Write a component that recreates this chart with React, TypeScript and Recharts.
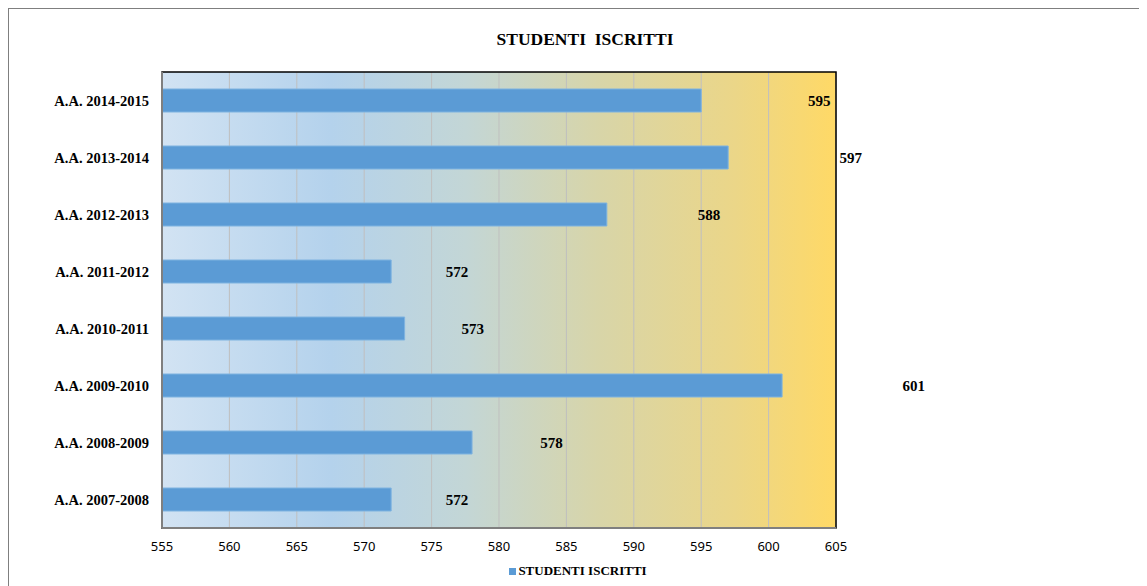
import { Bar, BarChart, CartesianGrid, LabelList, Legend, ReferenceArea, XAxis, YAxis } from "recharts"

const categories = [
  "A.A. 2007-2008",
  "A.A. 2008-2009",
  "A.A. 2009-2010",
  "A.A. 2010-2011",
  "A.A. 2011-2012",
  "A.A. 2012-2013",
  "A.A. 2013-2014",
  "A.A. 2014-2015",
]
const iscritti = [572, 578, 601, 573, 572, 588, 597, 595]
const xTicks = [555, 560, 565, 570, 575, 580, 585, 590, 595, 600, 605]

const data = categories.map((anno, i) => ({ anno, iscritti: iscritti[i] }))

const SERIF = "'Liberation Serif', 'Times New Roman', serif"

// Excel placed the data labels well past the bar ends; follow the same drift
const ValueLabel = (props: any) => {
  const { x, y, width, height, value } = props
  const cx = x + width * 1.169 + 27
  return (
    <text
      x={cx}
      y={y + height / 2}
      textAnchor="middle"
      dominantBaseline="central"
      fontFamily={SERIF}
      fontWeight="bold"
      fontSize={15}
      fill="#000"
    >
      {value}
    </text>
  )
}

const LegendBox = () => (
  <div
    style={{
      display: "flex",
      justifyContent: "center",
      alignItems: "center",
      fontFamily: SERIF,
      paddingTop: 5,
    }}
  >
    <span style={{ width: 7, height: 7, background: "#5B9BD5", marginRight: 2 }} />
    <span style={{ fontWeight: "bold", fontSize: 13, color: "#000" }}>STUDENTI ISCRITTI</span>
  </div>
)

export default function App() {
  return (
    <div
      style={{
        position: "relative",
        width: 1138,
        height: 577,
        borderLeft: "1px solid #7f7f7f",
        borderTop: "1px solid #7f7f7f",
        background: "#fff",
      }}
    >
      <div
        style={{
          position: "absolute",
          top: 20,
          left: 7,
          width: 1138,
          textAlign: "center",
          fontFamily: SERIF,
          fontWeight: "bold",
          fontSize: 17.5,
          whiteSpace: "pre",
          color: "#000",
          zIndex: 1,
        }}
      >
        {"STUDENTI  ISCRITTI"}
      </div>
      <BarChart
        width={1138}
        height={577}
        data={data}
        layout="vertical"
        margin={{ top: 63, right: 311, left: 13, bottom: 6 }}
        barSize={23}
      >
        <defs>
          <linearGradient id="bg" x1="0" y1="0" x2="1" y2="0">
            <stop offset="0%" stopColor="#D2E3F3" />
            <stop offset="25%" stopColor="#B4D2EC" />
            <stop offset="45%" stopColor="#C3D6D6" />
            <stop offset="65%" stopColor="#D8D5A8" />
            <stop offset="85%" stopColor="#EBD688" />
            <stop offset="100%" stopColor="#FFD966" />
          </linearGradient>
        </defs>
        <CartesianGrid horizontal={false} stroke="#BFBFBF" fill="url(#bg)" fillOpacity={1} />
        <XAxis
          type="number"
          domain={[555, 605]}
          ticks={xTicks}
          allowDataOverflow
          height={30}
          tickLine={false}
          axisLine={{ stroke: "#7f7f7f", strokeWidth: 2 }}
          tick={{ fontFamily: "'Noto Sans', sans-serif", fontSize: 13, fill: "#000" }}
          tickMargin={8}
        />
        <YAxis
          type="category"
          dataKey="anno"
          reversed
          width={140}
          tickLine={false}
          axisLine={{ stroke: "#7f7f7f", strokeWidth: 2 }}
          tick={{ fontFamily: SERIF, fontSize: 14.5, fontWeight: "bold", fill: "#000" }}
          tickMargin={7}
        />
        <ReferenceArea x1={555} x2={605} fill="none" stroke="#000" strokeWidth={1.5} />
        <Legend
          verticalAlign="bottom"
          height={22}
          wrapperStyle={{ left: 0, width: 1138 }}
          content={<LegendBox />}
        />
        <Bar
          dataKey="iscritti"
          name="STUDENTI ISCRITTI"
          fill="#5B9BD5"
          stroke="#7EB3E0"
          strokeWidth={1}
          isAnimationActive={false}
        >
          <LabelList dataKey="iscritti" content={<ValueLabel />} />
        </Bar>
      </BarChart>
    </div>
  )
}
